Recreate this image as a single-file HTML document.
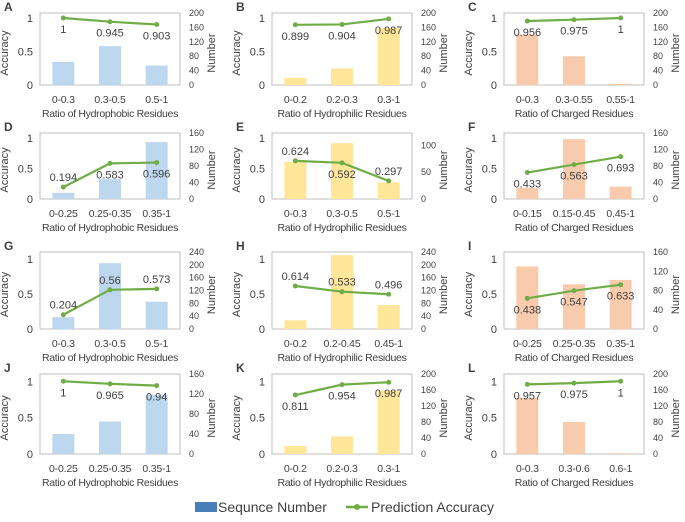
<!DOCTYPE html>
<html><head><meta charset="utf-8"><style>
body{margin:0;background:#fff;width:685px;height:517px;overflow:hidden}
svg text{font-family:"Liberation Sans",sans-serif;fill:#404040}
</style></head><body>
<svg id="chart" width="685" height="517" xmlns="http://www.w3.org/2000/svg"></svg>
<script>
const panelLetters=["A","B","C","D","E","F","G","H","I","J","K","L"];
const categories=[
["0-0.3","0.3-0.5","0.5-1"],["0-0.2","0.2-0.3","0.3-1"],["0-0.3","0.3-0.55","0.55-1"],
["0-0.25","0.25-0.35","0.35-1"],["0-0.3","0.3-0.5","0.5-1"],["0-0.15","0.15-0.45","0.45-1"],
["0-0.3","0.3-0.5","0.5-1"],["0-0.2","0.2-0.45","0.45-1"],["0-0.25","0.25-0.35","0.35-1"],
["0-0.25","0.25-0.35","0.35-1"],["0-0.2","0.2-0.3","0.3-1"],["0-0.3","0.3-0.6","0.6-1"]];
const xTitles=["Ratio of Hydrophobic Residues","Ratio of Hydrophilic Residues","Ratio of Charged Residues"];
const seqNumbers=[[64,108,54],[20,46,158],[140,80,3],[15,48,138],[69,104,31],[27,145,30],[37,205,85],[27,230,75],[130,93,102],[40,65,118],[20,44,158],[140,80,2]];
const accuracy=[[1,0.945,0.903],[0.899,0.904,0.987],[0.956,0.975,1],[0.194,0.583,0.596],[0.624,0.592,0.297],[0.433,0.563,0.693],[0.204,0.56,0.573],[0.614,0.533,0.496],[0.438,0.547,0.633],[1,0.965,0.94],[0.811,0.954,0.987],[0.957,0.975,1]];
const accLabels=[["1","0.945","0.903"],["0.899","0.904","0.987"],["0.956","0.975","1"],["0.194","0.583","0.596"],["0.624","0.592","0.297"],["0.433","0.563","0.693"],["0.204","0.56","0.573"],["0.614","0.533","0.496"],["0.438","0.547","0.633"],["1","0.965","0.94"],["0.811","0.954","0.987"],["0.957","0.975","1"]];
const numberMax=[200,200,200,160,123,160,240,240,160,160,200,200];
const numberTicks=[[0,40,80,120,160,200],[0,40,80,120,160,200],[0,40,80,120,160,200],[0,40,80,120,160],[0,50,100],[0,40,80,120,160],[0,40,80,120,160,200,240],[0,40,80,120,160,200,240],[0,40,80,120,160],[0,40,80,120,160],[0,40,80,120,160,200],[0,40,80,120,160,200]];
const accTicks=[0,0.5,1];
// layout (not data)
const labelAbove=[[0,0,0],[0,0,0],[0,0,0],[1,0,0],[1,0,1],[0,0,0],[1,1,1],[1,1,1],[0,0,0],[0,0,0],[0,0,0],[0,0,0]];
const rows=[{top:13,bottom:85,accMax:1.075},{top:133,bottom:199,accMax:1.08},{top:252,bottom:329,accMax:1.1},{top:374,bottom:454,accMax:1.1}];
const colX=[40,272,504],plotW=140;
const barColors=["#bdd7ee","#ffe699","#f8cbad"];
const svg=document.getElementById('chart');
const NS="http://www.w3.org/2000/svg";
function mk(tag,attrs,txt){const e=document.createElementNS(NS,tag);for(const k in attrs)e.setAttribute(k,attrs[k]);if(txt!==undefined)e.textContent=txt;svg.appendChild(e);return e;}
for(let p=0;p<12;p++){
  const r=rows[Math.floor(p/3)],c=p%3,L=colX[c],R=L+plotW;
  const yNum=v=>r.bottom-v/numberMax[p]*(r.bottom-r.top);
  const yAcc=v=>r.bottom-v/r.accMax*(r.bottom-r.top);
  const xCat=i=>L+(i+0.5)*plotW/3;
  let e=mk('text',{x:L-36,y:r.top-2,'font-size':12,'font-weight':'bold',fill:'#000'},panelLetters[p]);
  
  
  e=mk('rect',{x:L,y:r.top,width:plotW,height:r.bottom-r.top,fill:'none',stroke:'#bfbfbf','stroke-width':1});
  
  
  accTicks.forEach(t=>{const el=mk('text',{x:L-7,y:yAcc(t)+4,'font-size':11,'text-anchor':'end'},String(t));
    
    });
  numberTicks[p].forEach(t=>{const el=mk('text',{x:R+9,y:yNum(t)+3,'font-size':9},String(t));
    
    });
  const mid=(r.top+r.bottom)/2+4;
  e=mk('text',{x:0,y:0,'font-size':11,'text-anchor':'middle',transform:`translate(${L-32},${mid}) rotate(-90)`},'Accuracy');
  
  
  e=mk('text',{x:0,y:0,'font-size':11,'text-anchor':'middle',transform:`translate(${R+35},${mid}) rotate(-90)`},'Number');
  
  
  for(let i=0;i<3;i++){
    const y=yNum(seqNumbers[p][i]);
    e=mk('rect',{x:xCat(i)-11,y:y,width:22,height:r.bottom-y,fill:barColors[c]});
    
    
    e=mk('text',{x:xCat(i),y:r.bottom+18,'font-size':10.5,'letter-spacing':'-0.2','text-anchor':'middle'},categories[p][i]);
    
    
  }
  e=mk('text',{x:L+plotW/2,y:r.bottom+32,'font-size':10.5,'letter-spacing':'-0.3','text-anchor':'middle'},xTitles[c]);
  
  
  const pts=accuracy[p].map((v,i)=>xCat(i)+','+yAcc(v)).join(' ');
  e=mk('polyline',{points:pts,fill:'none',stroke:'#70ad47','stroke-width':2.2});
  
  
  for(let i=0;i<3;i++){
    const y=yAcc(accuracy[p][i]);
    e=mk('circle',{cx:xCat(i),cy:y,r:2.5,fill:'#70ad47'});
    
    
    e=mk('text',{x:xCat(i),y:labelAbove[p][i]?y-6:y+15,'font-size':11,'text-anchor':'middle',fill:'#222'},accLabels[p][i]);
    
    
  }
}
let e=mk('rect',{x:195,y:502,width:22,height:10,fill:'#4a7ebb'});


e=mk('text',{x:218,y:512,'font-size':14},'Sequnce Number');


e=mk('line',{x1:346,y1:507,x2:368,y2:507,stroke:'#70ad47','stroke-width':2.5});


e=mk('circle',{cx:357,cy:507,r:3,fill:'#70ad47'});


e=mk('text',{x:371,y:512,'font-size':14},'Prediction Accuracy');


</script>
</body></html>
